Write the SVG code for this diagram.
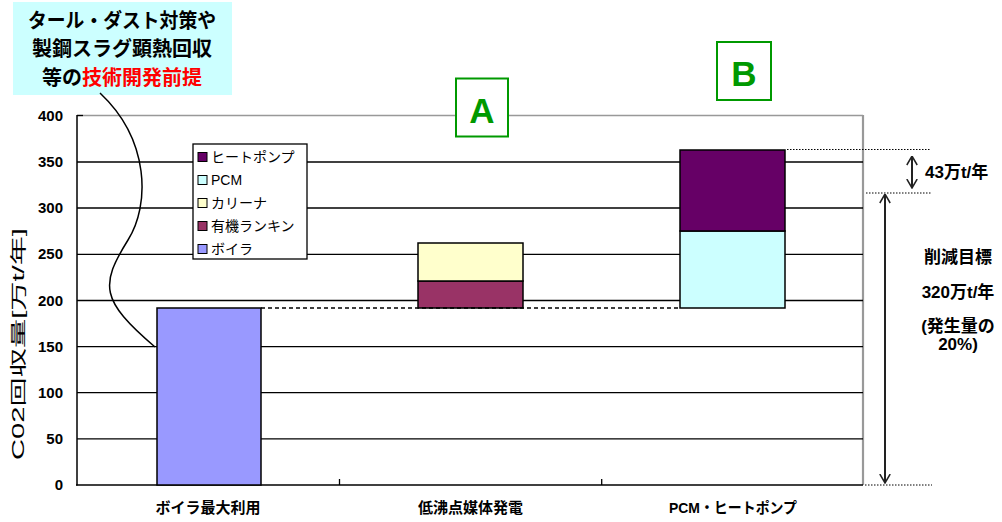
<svg xmlns="http://www.w3.org/2000/svg" width="1002" height="522" viewBox="0 0 1002 522">
<style>
text{font-family:"Liberation Sans","Noto Sans CJK JP",sans-serif;fill:#000}
.grid{stroke:#000;stroke-width:1.3}
.ylab{font-size:15px;font-weight:bold;text-anchor:end}
.xlab{font-size:15px;font-weight:bold;text-anchor:middle}
.leg{font-size:14px}
.bar{stroke:#000;stroke-width:1.5}
.ann{font-size:17px;font-weight:bold;text-anchor:middle}
.abox{fill:#fff;stroke:#009900;stroke-width:2}
.aletter{font-size:35px;font-weight:bold;fill:#009900;text-anchor:middle}
.dot{stroke:#000;stroke-width:1;stroke-dasharray:1.5 1.5}
.arr{stroke:#222;stroke-width:2;fill:none}
</style>
<defs>
<marker id="vhead" viewBox="0 0 10 12" refX="9.5" refY="6" markerWidth="10" markerHeight="12" markerUnits="userSpaceOnUse" orient="auto-start-reverse">
<path d="M0.5,0.8 L9.5,6 L0.5,11.2" fill="none" stroke="#222" stroke-width="1.5"/>
</marker>
</defs>

<g id="callout">
<rect x="13" y="2" width="219" height="93" fill="#CCFFFF"/>
<text x="122" y="28" font-size="20" font-weight="bold" text-anchor="middle" textLength="188" lengthAdjust="spacingAndGlyphs">タール・ダスト対策や</text>
<text x="122" y="56" font-size="20" font-weight="bold" text-anchor="middle">製鋼スラグ顕熱回収</text>
<text x="122" y="85" font-size="20" font-weight="bold" text-anchor="middle">等の<tspan fill="#FF0000">技術開発前提</tspan></text>
</g>

<g id="plot-frame">
<line x1="77" y1="115.5" x2="863" y2="115.5" stroke="#999" stroke-width="1.6"/>
<line x1="863" y1="115" x2="863" y2="485" stroke="#999" stroke-width="2.2"/>
<line x1="77" y1="115.5" x2="83" y2="115.5" class="grid"/>
<line class="grid" x1="77" y1="162" x2="863" y2="162"/>
<line class="grid" x1="77" y1="208" x2="863" y2="208"/>
<line class="grid" x1="77" y1="254.4" x2="863" y2="254.4"/>
<line class="grid" x1="77" y1="300.5" x2="863" y2="300.5"/>
<line class="grid" x1="77" y1="346.6" x2="863" y2="346.6"/>
<line class="grid" x1="77" y1="392.7" x2="863" y2="392.7"/>
<line class="grid" x1="77" y1="438.9" x2="863" y2="438.9"/>
<line x1="77" y1="115" x2="77" y2="485.5" stroke="#000" stroke-width="1.5"/>
<line x1="76" y1="485" x2="863" y2="485" stroke="#000" stroke-width="1.5"/>
<line x1="339.5" y1="479" x2="339.5" y2="485" stroke="#000" stroke-width="1.3"/>
<line x1="601.7" y1="479" x2="601.7" y2="485" stroke="#000" stroke-width="1.3"/>
<text class="ylab" x="63" y="121">400</text>
<text class="ylab" x="63" y="167">350</text>
<text class="ylab" x="63" y="213">300</text>
<text class="ylab" x="63" y="259">250</text>
<text class="ylab" x="63" y="306">200</text>
<text class="ylab" x="63" y="352">150</text>
<text class="ylab" x="63" y="398">100</text>
<text class="ylab" x="63" y="444">50</text>
<text class="ylab" x="63" y="490">0</text>
<text transform="translate(24,344) rotate(-90)" font-size="16" text-anchor="middle" textLength="232" lengthAdjust="spacingAndGlyphs">C02回収量[万t/年]</text>
<text class="xlab" x="208" y="513">ボイラ最大利用</text>
<text class="xlab" x="470.5" y="513">低沸点媒体発電</text>
<text class="xlab" x="733" y="513" textLength="128" lengthAdjust="spacingAndGlyphs">PCM・ヒートポンプ</text>
</g>

<g id="bar-boiler">
<rect class="bar" x="157" y="308" width="104" height="177" fill="#9999FF"/>
</g>
<g id="bar-lowboil">
<rect class="bar" x="418" y="281" width="105" height="27" fill="#993366"/>
<rect class="bar" x="418" y="243" width="105" height="38" fill="#FFFFCC"/>
</g>
<g id="bar-pcm-hp">
<rect class="bar" x="680" y="231" width="105" height="77" fill="#CCFFFF"/>
<rect class="bar" x="680" y="150" width="105" height="81" fill="#660066"/>
</g>

<g id="legend">
<rect x="193" y="144" width="114" height="115" fill="#fff" stroke="#000" stroke-width="1.3"/>
<rect x="198" y="152.5" width="9" height="9" fill="#660066" stroke="#000"/>
<text class="leg" x="211" y="162">ヒートポンプ</text>
<rect x="198" y="175.5" width="9" height="9" fill="#CCFFFF" stroke="#000"/>
<text class="leg" x="211" y="185">PCM</text>
<rect x="198" y="198.5" width="9" height="9" fill="#FFFFCC" stroke="#000"/>
<text class="leg" x="211" y="208">カリーナ</text>
<rect x="198" y="221.5" width="9" height="9" fill="#993366" stroke="#000"/>
<text class="leg" x="211" y="231">有機ランキン</text>
<rect x="198" y="244.5" width="9" height="9" fill="#9999FF" stroke="#000"/>
<text class="leg" x="211" y="254">ボイラ</text>
</g>

<g id="label-A">
<rect class="abox" x="456" y="78.5" width="52" height="58"/>
<text class="aletter" x="482" y="123">A</text>
</g>
<g id="label-B">
<rect class="abox" x="717" y="42" width="54" height="58"/>
<text class="aletter" x="744" y="86">B</text>
</g>

<g id="annotations">
<text class="ann" x="925" y="178" style="text-anchor:start">43万t/年</text>
<text class="ann" x="958" y="263">削減目標</text>
<text class="ann" x="958" y="298">320万t/年</text>
<text class="ann" x="958" y="332">(発生量の</text>
<text class="ann" x="958" y="350">20%)</text>
</g>

<g id="connectors">
<path d="M100,93 C150,140 150,205 128,240 C100,285 100,300 155,347" fill="none" stroke="#000" stroke-width="1.5"/>
<line x1="261" y1="308" x2="680" y2="308" stroke="#000" stroke-width="1.3" stroke-dasharray="4 3"/>
<line class="dot" x1="787" y1="149.5" x2="931" y2="149.5"/>
<line class="dot" x1="866" y1="193" x2="932" y2="193"/>
<line class="dot" x1="865" y1="485" x2="932" y2="485"/>
<line class="arr" x1="912" y1="156" x2="912" y2="188" marker-start="url(#vhead)" marker-end="url(#vhead)"/>
<line class="arr" x1="885" y1="194" x2="885" y2="483" marker-start="url(#vhead)" marker-end="url(#vhead)"/>
</g>
</svg>
